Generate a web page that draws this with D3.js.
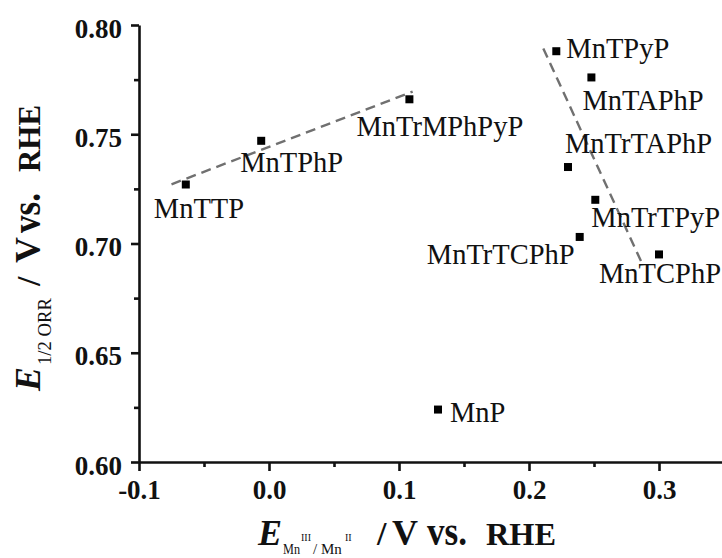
<!DOCTYPE html>
<html>
<head>
<meta charset="utf-8">
<script src="https://cdn.jsdelivr.net/npm/d3@7"></script>
<style>
  html, body { margin: 0; padding: 0; background: #fff; }
  svg { display: block; }
</style>
</head>
<body>
<svg id="chart" width="722" height="558"></svg>
<script>
// Manganese porphyrins: redox potential vs ORR half-wave potential
const compounds = ["MnTTP", "MnTPhP", "MnTrMPhPyP", "MnTPyP", "MnTAPhP",
                   "MnTrTAPhP", "MnTrTPyP", "MnTrTCPhP", "MnTCPhP", "MnP"];
const eRedox = [-0.064, -0.006, 0.108, 0.221, 0.248, 0.230, 0.251, 0.239, 0.300, 0.130];
const eHalf  = [0.727, 0.747, 0.766, 0.788, 0.776, 0.735, 0.720, 0.703, 0.695, 0.624];

// dashed trend lines (two end points each)
const trendAx = [-0.075, 0.1105];
const trendAy = [0.7271, 0.7695];
const trendBx = [0.211, 0.2875];
const trendBy = [0.7893, 0.6902];

// axis ticks
const xTicks = [-0.1, 0.0, 0.1, 0.2, 0.3];
const xTickLabels = ["-0.1", "0.0", "0.1", "0.2", "0.3"];
const xMinor = [-0.05, 0.05, 0.15, 0.25, 0.35];
const yTicks = [0.60, 0.65, 0.70, 0.75, 0.80];
const yTickLabels = ["0.60", "0.65", "0.70", "0.75", "0.80"];
const yMinor = [0.625, 0.675, 0.725, 0.775];

// label placement relative to each marker (px)
const labelDx = [-32, -21, -53, 10, -9, -3, -4, -5, 62, 12];
const labelDy = [33, 31, 37, 7, 33, -14, 27, 27, 29, 12];
const labelAnchor = ["start", "start", "start", "start", "start",
                     "start", "start", "end", "end", "start"];

const SERIF = "'Liberation Serif', Tinos, 'Times New Roman', Times, 'DejaVu Serif', serif";
const INK = "#111";

const svg = d3.select("#chart");

// every text element gets the serif face explicitly
function txt(sel) {
  return sel.append("text").attr("font-family", SERIF).attr("fill", INK);
}

const x = d3.scaleLinear().domain([-0.1, 0.35]).range([139, 724]);
const y = d3.scaleLinear().domain([0.60, 0.80]).range([462, 25]);

// axes
const axisStroke = 2.6;
const gx = svg.append("g").attr("transform", `translate(0,${y(0.60)})`)
  .call(d3.axisBottom(x).tickValues(xTicks).tickSize(9).tickSizeOuter(0)
        .tickFormat((d, i) => xTickLabels[i]));
const gxm = svg.append("g").attr("transform", `translate(0,${y(0.60)})`)
  .call(d3.axisBottom(x).tickValues(xMinor).tickSize(5).tickSizeOuter(0).tickFormat(""));
gxm.select(".domain").remove();

const gy = svg.append("g").attr("transform", `translate(${x(-0.1)},0)`)
  .call(d3.axisLeft(y).tickValues(yTicks).tickSize(8).tickSizeOuter(0)
        .tickFormat((d, i) => yTickLabels[i]));
const gym = svg.append("g").attr("transform", `translate(${x(-0.1)},0)`)
  .call(d3.axisLeft(y).tickValues(yMinor).tickSize(5).tickSizeOuter(0).tickFormat(""));
gym.select(".domain").remove();

[gx, gxm, gy, gym].forEach(g => {
  g.attr("font-family", SERIF);
  g.selectAll("path, line").attr("stroke", INK).attr("stroke-width", axisStroke);
});
gx.selectAll("text").attr("font-size", 27).attr("font-weight", "bold")
  .attr("font-family", SERIF).attr("fill", INK)
  .attr("dy", null).attr("y", 37);
gy.selectAll("text").attr("font-size", 27).attr("font-weight", "bold")
  .attr("font-family", SERIF).attr("fill", INK)
  .attr("dy", null).attr("x", -17).attr("y", 12);

// trend lines
const line = d3.line().x(d => x(d[0])).y(d => y(d[1]));
[[trendAx, trendAy], [trendBx, trendBy]].forEach(([tx, ty]) => {
  svg.append("path")
    .datum(tx.map((v, i) => [v, ty[i]]))
    .attr("d", line)
    .attr("fill", "none")
    .attr("stroke", "#707070")
    .attr("stroke-width", 2.4)
    .attr("stroke-dasharray", "10,6");
});

// markers
const pts = compounds.map((name, i) => ({ name, xv: eRedox[i], yv: eHalf[i], i }));
const ms = 8;
svg.append("g").selectAll("rect").data(pts).join("rect")
  .attr("x", d => x(d.xv) - ms / 2)
  .attr("y", d => y(d.yv) - ms / 2)
  .attr("width", ms).attr("height", ms)
  .attr("fill", "#000");

// labels
svg.append("g").selectAll("text").data(pts).join("text")
  .attr("font-family", SERIF).attr("fill", INK)
  .attr("x", d => x(d.xv) + labelDx[d.i])
  .attr("y", d => y(d.yv) + labelDy[d.i])
  .attr("text-anchor", d => labelAnchor[d.i])
  .attr("font-size", 28.5)
  .text(d => d.name);

// x axis title: E(Mn^III/Mn^II) / V vs. RHE
const xt = svg.append("g");
txt(xt).attr("x", 258).attr("y", 545).attr("font-size", 36)
  .attr("font-weight", "bold").attr("font-style", "italic").text("E");
txt(xt).attr("x", 283).attr("y", 554).attr("font-size", 15)
  .attr("textLength", 17).attr("lengthAdjust", "spacingAndGlyphs").text("Mn");
txt(xt).attr("x", 301).attr("y", 541).attr("font-size", 10).text("III");
txt(xt).attr("x", 313).attr("y", 554).attr("font-size", 15).text("/");
txt(xt).attr("x", 321).attr("y", 554).attr("font-size", 15).text("Mn");
txt(xt).attr("x", 345).attr("y", 541).attr("font-size", 10).text("II");
txt(xt).attr("x", 377).attr("y", 545).attr("font-size", 34)
  .attr("font-weight", "bold").text("/");
txt(xt).attr("x", 392).attr("y", 545).attr("font-size", 36)
  .attr("font-weight", "bold").text("V");
txt(xt).attr("x", 427).attr("y", 545).attr("font-size", 40)
  .attr("font-weight", "bold").attr("textLength", 40)
  .attr("lengthAdjust", "spacingAndGlyphs").text("vs.");
txt(xt).attr("x", 486).attr("y", 545).attr("font-size", 32)
  .attr("font-weight", "bold").attr("textLength", 70)
  .attr("lengthAdjust", "spacingAndGlyphs").text("RHE");

// y axis title: E(1/2 ORR) / V vs. RHE, rotated
const yt = svg.append("g").attr("transform", "rotate(-90)");
txt(yt).attr("x", -391).attr("y", 40).attr("font-size", 36)
  .attr("font-weight", "bold").attr("font-style", "italic").text("E");
txt(yt).attr("x", -365).attr("y", 51).attr("font-size", 18)
  .attr("textLength", 67).attr("lengthAdjust", "spacingAndGlyphs").text("1/2 ORR");
txt(yt).attr("x", -286).attr("y", 40).attr("font-size", 34)
  .attr("font-weight", "bold").text("/");
txt(yt).attr("x", -263).attr("y", 40).attr("font-size", 36)
  .attr("font-weight", "bold").text("V");
txt(yt).attr("x", -233).attr("y", 40).attr("font-size", 40)
  .attr("font-weight", "bold").attr("textLength", 40)
  .attr("lengthAdjust", "spacingAndGlyphs").text("vs.");
txt(yt).attr("x", -172).attr("y", 40).attr("font-size", 32)
  .attr("font-weight", "bold").attr("textLength", 67)
  .attr("lengthAdjust", "spacingAndGlyphs").text("RHE");
</script>
</body>
</html>
